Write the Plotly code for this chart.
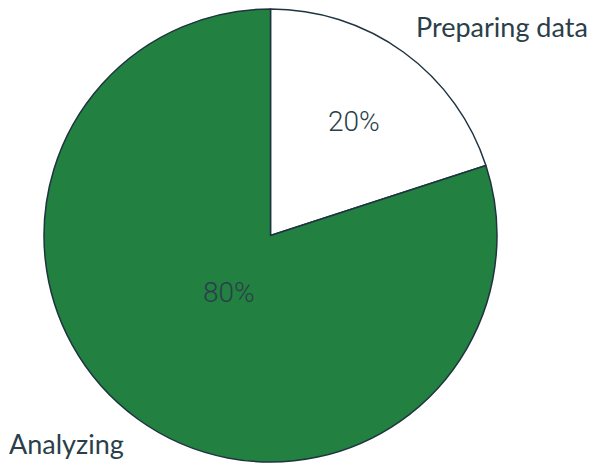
import math
import plotly.graph_objects as go

categories = ["Preparing data", "Analyzing"]
values = [20, 80]
colors = ["#ffffff", "#228040"]

W, H = 597, 463
l, r, t, b = 44, 100, 9, 1
pw, ph = W - l - r, H - t - b

def px(x):
    return (x - l) / pw

def py(y):
    return 1 - (y - t) / ph

fig = go.Figure(go.Pie(
    labels=categories,
    values=values,
    sort=False,
    direction="clockwise",
    rotation=0,
    marker=dict(colors=colors, line=dict(color="#1f3440", width=1.5)),
    textinfo="none",
    showlegend=False,
    hoverinfo="label+percent",
))

# percentage labels placed along each slice's mid-angle
text_radius = [0.624, 0.309]
total = sum(values)
cum = 0
for v, rf in zip(values, text_radius):
    mid = (cum + v / 2) / total * 2 * math.pi
    cum += v
    xr = 0.5 + rf * 0.5 * math.sin(mid)
    yr = 0.5 + rf * 0.5 * math.cos(mid)
    fig.add_annotation(text=f"{round(100 * v / total)}%", x=xr, y=yr,
                       xref="paper", yref="paper", showarrow=False,
                       xanchor="center", yanchor="middle",
                       font=dict(family="Roboto", size=28, weight=300, color="#2a3f4a"))

label_font = dict(family="Lato", size=27, color="#2a3f4a")
fig.add_annotation(text=categories[0], x=px(502), y=py(27), xref="paper", yref="paper",
                   showarrow=False, xanchor="center", yanchor="middle", font=label_font)
fig.add_annotation(text=categories[1], x=px(66), y=py(443), xref="paper", yref="paper",
                   showarrow=False, xanchor="center", yanchor="middle", font=label_font)

fig.update_layout(
    width=W, height=H,
    margin=dict(l=l, r=r, t=t, b=b),
    paper_bgcolor="white",
    plot_bgcolor="white",
)

fig.write_html("out.html", config={"displayModeBar": False},
               post_script="document.body.style.margin='0';")
